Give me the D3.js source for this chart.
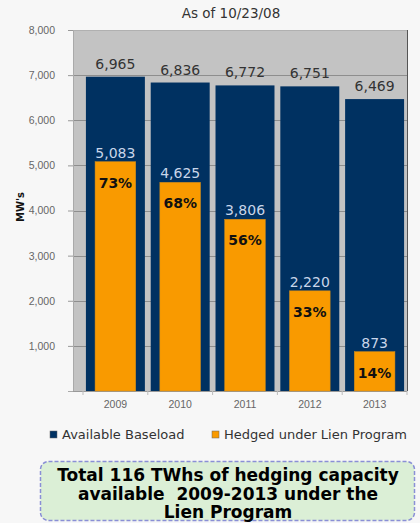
<!DOCTYPE html>
<html>
<head>
<meta charset="utf-8">
<script src="https://cdn.jsdelivr.net/npm/d3@7"></script>
<style>
  html, body { margin: 0; padding: 0; background: #f7f7f7; }
  svg { display: block; font-family: "DejaVu Sans", Verdana, sans-serif; }
</style>
</head>
<body>
<div id="chart"></div>
<script>
// Chart data
const years = ["2009", "2010", "2011", "2012", "2013"];
const baseload = [6965, 6836, 6772, 6751, 6469];   // Available Baseload (MW)
const hedged = [5083, 4625, 3806, 2220, 873];       // Hedged under Lien Program (MW)
const hedgedPct = ["73%", "68%", "56%", "33%", "14%"];
const yTicks = [1000, 2000, 3000, 4000, 5000, 6000, 7000, 8000];
const seriesNames = ["Available Baseload", "Hedged under Lien Program"];
const titleText = "As of 10/23/08";
const noteLines = ["Total 116 TWhs of hedging capacity", "available  2009-2013 under the", "Lien Program"];

const W = 420, H = 523;
const navy = "#003161";
const orange = "#f99a00";

const svg = d3.select("#chart")
    .append("svg")
    .attr("width", W)
    .attr("height", H);

// plot area
const plot = { left: 73, right: 407, top: 30, bottom: 391 };

const y = d3.scaleLinear()
    .domain([0, 8000])
    .range([plot.bottom, plot.top]);

const x = d3.scaleBand()
    .domain(years)
    .range([83, plot.right])
    .paddingInner(0.09)
    .paddingOuter(0.045);

// gray background
svg.append("rect")
    .attr("x", plot.left)
    .attr("y", plot.top)
    .attr("width", plot.right - plot.left)
    .attr("height", plot.bottom - plot.top)
    .attr("fill", "#c3c3c3");

// gridlines
svg.append("g")
    .selectAll("line")
    .data(yTicks)
    .enter()
    .append("line")
    .attr("x1", plot.left)
    .attr("x2", plot.right)
    .attr("y1", d => Math.round(y(d)) + 0.5)
    .attr("y2", d => Math.round(y(d)) + 0.5)
    .attr("stroke", d => d === 8000 ? "#b0b0b0" : "#8e8e8e")
    .attr("stroke-width", 1);

// right border
svg.append("line")
    .attr("x1", plot.right + 0.5)
    .attr("x2", plot.right + 0.5)
    .attr("y1", plot.top)
    .attr("y2", plot.bottom)
    .attr("stroke", "#555");

// Y axis
const yAxis = svg.append("g")
    .attr("transform", `translate(${plot.left},0)`)
    .call(d3.axisLeft(y)
        .tickValues(yTicks)
        .tickFormat(d3.format(","))
        .tickSize(5)
        .tickPadding(13));
yAxis.select(".domain").attr("stroke", "#aaa");
yAxis.selectAll(".tick line").attr("stroke", "#999");
yAxis.selectAll(".tick text")
    .attr("fill", "#666")
    .style("font-size", "10.5px");

// X axis
const xAxis = svg.append("g")
    .attr("transform", `translate(0,${plot.bottom})`)
    .call(d3.axisBottom(x).tickSize(0).tickPadding(10));
xAxis.select(".domain").remove();
xAxis.selectAll(".tick text")
    .attr("fill", "#666")
    .style("font-size", "10.5px");

// baseline and category ticks
svg.append("line")
    .attr("x1", plot.left).attr("x2", plot.right)
    .attr("y1", plot.bottom + 0.5).attr("y2", plot.bottom + 0.5)
    .attr("stroke", "#999");
const step = x.step();
svg.append("g")
    .selectAll("line")
    .data(d3.range(years.length + 1))
    .enter()
    .append("line")
    .attr("x1", i => x(years[0]) - x.paddingInner() * step / 2 + i * step)
    .attr("x2", i => x(years[0]) - x.paddingInner() * step / 2 + i * step)
    .attr("y1", plot.bottom)
    .attr("y2", plot.bottom + 4)
    .attr("stroke", "#bbb");

// Navy bars
svg.append("g")
    .selectAll("rect")
    .data(years)
    .enter()
    .append("rect")
    .attr("x", d => x(d))
    .attr("width", x.bandwidth())
    .attr("y", (d, i) => y(baseload[i]))
    .attr("height", (d, i) => plot.bottom - y(baseload[i]))
    .attr("fill", navy);

// Orange bars
const inner = x.bandwidth() * 0.69;
svg.append("g")
    .selectAll("rect")
    .data(years)
    .enter()
    .append("rect")
    .attr("x", d => x(d) + (x.bandwidth() - inner) / 2)
    .attr("width", inner)
    .attr("y", (d, i) => y(hedged[i]))
    .attr("height", (d, i) => plot.bottom - y(hedged[i]))
    .attr("fill", orange)
    .attr("stroke", "#c98a20")
    .attr("stroke-width", 0.5);

// Labels: baseload values
svg.append("g")
    .selectAll("text")
    .data(years)
    .enter()
    .append("text")
    .attr("x", d => x(d) + x.bandwidth() / 2)
    .attr("y", (d, i) => y(baseload[i]) - 8)
    .attr("text-anchor", "middle")
    .attr("fill", "#333")
    .style("font-size", "14px")
    .text((d, i) => d3.format(",")(baseload[i]));

// Labels: hedged values
svg.append("g")
    .selectAll("text")
    .data(years)
    .enter()
    .append("text")
    .attr("x", d => x(d) + x.bandwidth() / 2)
    .attr("y", (d, i) => y(hedged[i]) - 4)
    .attr("text-anchor", "middle")
    .attr("fill", "#c9d6ea")
    .style("font-size", "14px")
    .text((d, i) => d3.format(",")(hedged[i]));

// Labels: percentage
svg.append("g")
    .selectAll("text")
    .data(years)
    .enter()
    .append("text")
    .attr("x", d => x(d) + x.bandwidth() / 2)
    .attr("y", (d, i) => y(hedged[i]) + 26)
    .attr("text-anchor", "middle")
    .attr("fill", "#111")
    .style("font-size", "14px")
    .style("font-weight", "bold")
    .text((d, i) => hedgedPct[i]);

// Title
svg.append("text")
    .attr("x", 231)
    .attr("y", 18)
    .attr("text-anchor", "middle")
    .attr("fill", "#333")
    .style("font-size", "13.5px")
    .text(titleText);

// Y axis title
svg.append("text")
    .attr("transform", "translate(24,207) rotate(-90)")
    .attr("text-anchor", "middle")
    .attr("fill", "#111")
    .style("font-size", "10px")
    .style("font-weight", "bold")
    .text("MW's");

// Legend
const legend = svg.append("g").attr("transform", "translate(0,434)");
const legendX = [50, 212];
[navy, orange].forEach((c, i) => {
    legend.append("rect")
        .attr("x", legendX[i])
        .attr("y", -3)
        .attr("width", 7)
        .attr("height", 7)
        .attr("fill", c)
        .attr("stroke", "#666")
        .attr("stroke-width", 0.5);
    legend.append("text")
        .attr("x", legendX[i] + 12)
        .attr("y", 5)
        .attr("fill", "#333")
        .style("font-size", "13px")
        .text(seriesNames[i]);
});

// Note box
svg.append("rect")
    .attr("x", 40.5)
    .attr("y", 461.5)
    .attr("width", 374)
    .attr("height", 59)
    .attr("rx", 8)
    .attr("fill", "#dbefd6")
    .attr("stroke", "#8a8fd6")
    .attr("stroke-width", 1.5)
    .attr("stroke-dasharray", "4,2");

svg.append("g")
    .selectAll("text")
    .data(noteLines)
    .enter()
    .append("text")
    .attr("x", 228)
    .attr("y", (d, i) => 481 + i * 18.5)
    .attr("text-anchor", "middle")
    .attr("fill", "#000")
    .style("font-size", "17px")
    .style("font-weight", "bold")
    .style("white-space", "pre")
    .text(d => d);
</script>
</body>
</html>
